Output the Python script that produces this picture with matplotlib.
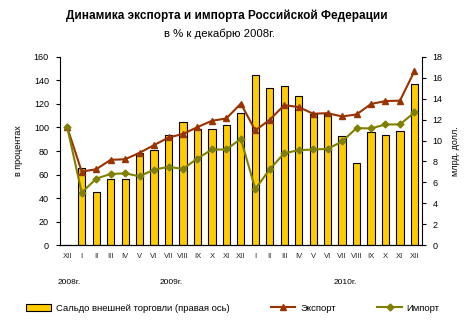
import numpy as np
import matplotlib.pyplot as plt
from matplotlib.patches import Patch
from matplotlib.lines import Line2D

plt.rcParams['font.family'] = ['Liberation Sans', 'DejaVu Sans']

months = ['XII', 'I', 'II', 'III', 'IV', 'V', 'VI', 'VII', 'VIII', 'IX', 'X', 'XI', 'XII',
          'I', 'II', 'III', 'IV', 'V', 'VI', 'VII', 'VIII', 'IX', 'X', 'XI', 'XII']
years = ['2008г.', '2009г.', '2010г.']

# balance of foreign trade, bln USD (right axis)
saldo = [0, 7.35, 5.05, 6.3, 6.3, 8.8, 9.1, 10.5, 11.8, 11.1, 11.1, 11.5, 12.65,
         16.3, 15.0, 15.2, 14.25, 12.5, 12.5, 10.4, 7.9, 10.8, 10.5, 10.9, 15.4]
# export, % of Dec 2008
export = [100, 62.5, 64.5, 72.5, 73, 78.5, 85, 91.5, 94.5, 100.3, 105.7, 107.7, 120.3,
          97.5, 106.6, 119, 117.4, 111.7, 112.2, 109.4, 111.1, 120, 122.5, 122.8, 147.8]
# import, % of Dec 2008
imprt = [100, 44.6, 56.5, 60.5, 61, 58.5, 64.2, 66.5, 64.8, 73.6, 81.3, 81.3, 90.4,
         47.7, 64.5, 78.1, 80.7, 81.3, 81.8, 88.1, 99.5, 99.2, 102.6, 102.6, 112.8]

bar_color = '#FFCC00'
exp_color = '#993300'
imp_color = '#808000'

fig = plt.figure(figsize=(4.69, 3.33), dpi=100)
ax = fig.add_axes([0.128, 0.264, 0.771, 0.565])
ax2 = ax.twinx()

x = np.arange(len(months))
ax2.bar(x, saldo, width=0.5, color=bar_color, edgecolor='black', linewidth=0.8)
ax2.set_ylim(0, 18)
ax2.set_yticks(range(0, 19, 2))

ax.set_zorder(ax2.get_zorder() + 1)
ax.patch.set_visible(False)
ax.plot(x, export, color=exp_color, lw=1.5, marker='^', ms=5, mec=exp_color)
ax.plot(x, imprt, color=imp_color, lw=1.5, marker='D', ms=3.5, mec=imp_color)
ax.set_ylim(0, 160)
ax.set_yticks(range(0, 161, 20))
ax.set_xlim(-0.5, len(months) - 0.5)
ax.set_xticks(x)
ax.set_xticklabels(months, fontsize=5.5, color='#222222')

for a in (ax, ax2):
    a.spines['top'].set_visible(False)
    a.tick_params(axis='y', labelsize=6.5, length=3, width=0.8, pad=5)
    a.tick_params(axis='x', length=0, pad=6)
ax2.spines['left'].set_visible(False)
ax.spines['right'].set_visible(False)

ax.set_ylabel('в процентах', fontsize=6.5, labelpad=8)
ax2.set_ylabel('млрд. долл.', fontsize=6.5, labelpad=6)

for label, xpos in zip(years, [-0.65, 6.35, 18.4]):
    ax.text(xpos, -0.2, label, transform=ax.get_xaxis_transform(),
            fontsize=6, ha='left', va='center')

fig.text(0.484, 0.952, 'Динамика экспорта и импорта Российской Федерации',
         ha='center', va='center', fontsize=8.5, fontweight='bold')
fig.text(0.469, 0.9, 'в % к декабрю 2008г.', ha='center', va='center', fontsize=8.2)

handles = [Patch(facecolor=bar_color, edgecolor='black', linewidth=0.8),
           Line2D([], [], color=exp_color, lw=1.5, marker='^', ms=5),
           Line2D([], [], color=imp_color, lw=1.5, marker='D', ms=3.5)]
labels = ['Сальдо внешней торговли (правая ось)', 'Экспорт', 'Импорт']
fig.legend(handles, labels, loc='center left', bbox_to_anchor=(0.046, 0.075),
           ncol=3, frameon=False, fontsize=6.8, handlelength=2.6,
           handletextpad=0.5, columnspacing=4.4, borderpad=0)

fig.savefig('out.png', dpi=100)
